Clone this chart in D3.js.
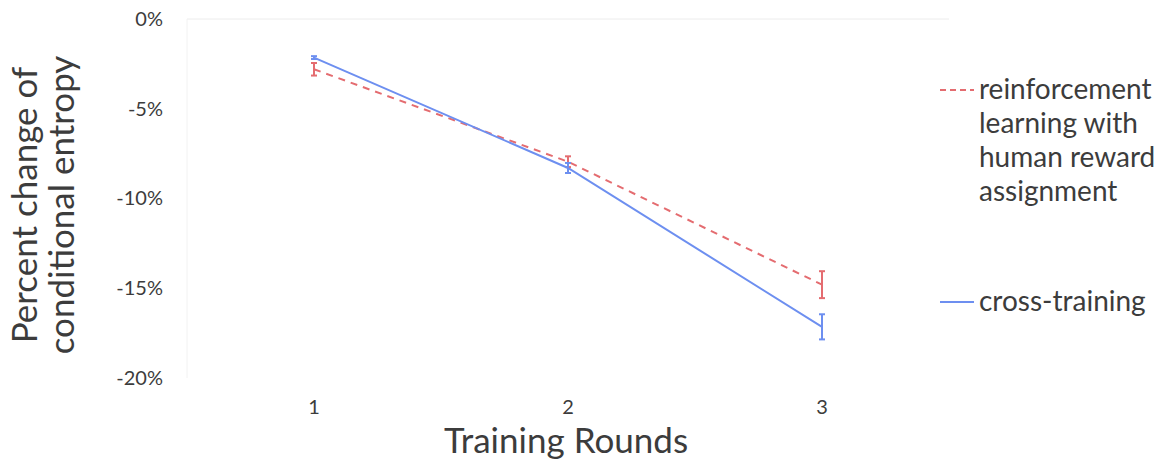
<!DOCTYPE html>
<html><head><meta charset="utf-8">
<script src="https://cdn.jsdelivr.net/npm/d3@7"></script>
<style>body{margin:0;background:#fff}svg{display:block}text{font-family:Lato,"Open Sans",sans-serif;fill:#3c3c3c}</style>
</head><body><svg id="c" width="1162" height="461"></svg>
<script>
const categories = ["1","2","3"];
const rlValues = [-2.8, -7.95, -14.8];
const rlErrors = [0.35, 0.3, 0.75];
const ctValues = [-2.15, -8.3, -17.15];
const ctErrors = [0.08, 0.28, 0.7];
const yTicks = [0, -5, -10, -15, -20];
const seriesNames = ["reinforcement learning with human reward assignment", "cross-training"];

const svg = d3.select("#c");
const x = d3.scaleBand().domain(categories).range([187, 949]);
const y = d3.scaleLinear().domain([-20, 0]).range([378, 19]);
const cx = d => x(d) + x.bandwidth()/2;

// faint axes
svg.append("line").attr("x1",187).attr("x2",949).attr("y1",y(0)).attr("y2",y(0)).attr("stroke","#ececec").attr("stroke-width",1);
svg.append("line").attr("x1",187).attr("x2",187).attr("y1",y(0)).attr("y2",y(-20)).attr("stroke","#f2f2f2").attr("stroke-width",1);

// y tick labels
const ya = svg.append("g").attr("transform","translate(187,0)").call(d3.axisLeft(y).tickValues(yTicks).tickSize(0).tickPadding(24).tickFormat(d=>d+"%"));
ya.select(".domain").remove();
ya.selectAll("text").style("font-size","20px").style("font-family","Lato, sans-serif").attr("fill","#3c3c3c");

const xa = svg.append("g").attr("transform","translate(0,"+y(-20)+")").call(d3.axisBottom(x).tickSize(0).tickPadding(22));
xa.select(".domain").remove();
xa.selectAll("text").style("font-size","20px").style("font-family","Lato, sans-serif").attr("fill","#3c3c3c");

const series = [
  {vals: rlValues, errs: rlErrors, color:"#e46c70", dash:"7,6"},
  {vals: ctValues, errs: ctErrors, color:"#6d8ff0", dash:null}
];
const line = d3.line().x((d,i)=>cx(categories[i])).y(d=>y(d));
series.forEach(s=>{
  svg.append("path").datum(s.vals).attr("d",line).attr("fill","none").attr("stroke",s.color).attr("stroke-width",2).attr("stroke-dasharray",s.dash);
  const g = svg.append("g");
  s.vals.forEach((v,i)=>{
    const xx = cx(categories[i]);
    g.append("line").attr("x1",xx).attr("x2",xx).attr("y1",y(v+s.errs[i])).attr("y2",y(v-s.errs[i])).attr("stroke",s.color).attr("stroke-width",2);
    [v+s.errs[i], v-s.errs[i]].forEach(e=>g.append("line").attr("x1",xx-3).attr("x2",xx+3).attr("y1",y(e)).attr("y2",y(e)).attr("stroke",s.color).attr("stroke-width",2));
  });
});

// legend
const legLines = [["reinforcement","learning with","human reward","assignment"],["cross-training"]];
const legY = [90, 302];
series.forEach((s,k)=>{
  svg.append("line").attr("x1",940).attr("x2",974).attr("y1",legY[k]).attr("y2",legY[k]).attr("stroke",s.color).attr("stroke-width",2).attr("stroke-dasharray",s.dash?"6,4":null);
  legLines[k].forEach((t,j)=>{
    svg.append("text").attr("x",979).attr("y",legY[k]+9+j*34).style("font-size","28px").text(t);
  });
});

// axis titles
svg.append("text").attr("x",566).attr("y",453).attr("text-anchor","middle").style("font-size","35px").text("Training Rounds");
const yt = svg.append("text").attr("transform","translate(0,205) rotate(-90)").attr("text-anchor","middle").style("font-size","35px");
yt.append("tspan").attr("x",0).attr("y",37).text("Percent change of");
yt.append("tspan").attr("x",0).attr("y",74).text("conditional entropy");
</script></body></html>
